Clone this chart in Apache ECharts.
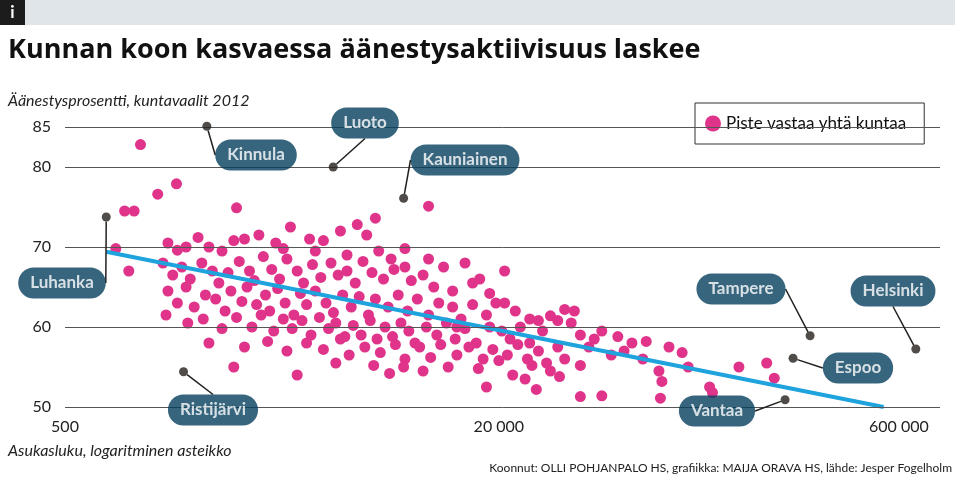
<!DOCTYPE html>
<html><head><meta charset="utf-8">
<script src="https://cdn.jsdelivr.net/npm/echarts@6/dist/echarts.min.js"></script>
<style>body{margin:0}#c{width:960px;height:481px}</style></head>
<body><div id="c"></div>
<script>
const title = "Kunnan koon kasvaessa äänestysaktiivisuus laskee";
const yTicks = [50, 60, 70, 80, 85];
const xTicks = [500, 20000, 600000];
// municipalities: [population, turnout %]
const municipalities = [
[950,82.8],[1290,77.9],[1100,76.6],[830,74.5],[900,74.5],[2150,74.9],[11000,75.1],[7000,73.6],[770,69.8],[860,67],
[1200,70.5],[1300,69.6],[1400,70],[1550,71.2],[1700,70],[1900,69.5],[2100,70.8],[2300,71],[2600,71.5],[3000,70.5],[3400,72.5],[4000,71],[4500,70.8],[5200,72],[6000,72.8],[6500,71.5],[7200,69.5],[8000,68.5],[9000,67.5],[12500,67.5],[15000,68],[17000,66],[21000,67],
[1150,68],[1250,66.5],[1350,67.5],[1450,66],[1600,68],[1750,67],[1850,65.5],[2000,66.8],[2200,68.2],[2400,67],[2500,65.8],[2700,68.8],[2900,67.2],[3100,66],[3300,68.5],[3600,67],[3800,65.5],[4100,67.8],[4400,66.2],[4800,68],[5100,66.5],[5500,67],[5900,65.5],[6300,68.2],[6800,66.8],[7500,66],[8200,67.2],[9500,65.8],[10500,66.5],[11500,65],
[1200,64.5],[1300,63],[1400,65],[1500,62.5],[1650,64],[1800,63.5],[1950,62],[2050,64.5],[2250,63.2],[2350,65],[2550,62.8],[2750,64],[2850,62],[3050,64.8],[3250,63],[3500,61.5],[3700,64.2],[3900,62.8],[4200,64.5],[4600,63],[4900,61.8],[5300,64],[5700,62.5],[6100,63.8],[6600,61.5],[7000,63.5],[7800,62.5],[8500,64],[9200,62],[10000,63.5],[11000,61.5],[12000,63],[13500,62.5],[14500,61],[16000,62.8],[18000,61.5],[19500,63],
[1180,61.5],[1420,60.5],[1620,61],[1900,59.8],[2150,61.2],[2450,60],[2650,61.5],[2950,59.5],[3200,61],[3450,59.8],[3750,60.8],[4050,59],[4350,61.2],[4700,59.8],[5000,60.5],[5400,58.8],[5800,60.2],[6200,59],[6700,60.8],[7100,58.5],[7600,60],[8100,58.8],[8700,60.5],[9300,59.5],[9800,58],[10800,60],[11800,59],[12800,60.5],[13800,58.5],[15000,59.8],[16500,58],[18500,60],[20500,59.5],[22000,58.5],[24000,60],[26000,58],[29000,59.5],
[1700,58],[2300,57.5],[2800,58.2],[3300,57],[3900,58],[4500,57.2],[5200,58.5],[5600,56.5],[6400,57.5],[7300,56.8],[8300,57.8],[9000,56],[10200,57.5],[11200,56.2],[12200,57.8],[14000,56.5],[15500,57.5],[17500,56],[19000,57.2],[21500,56.5],[23500,57.8],[25500,56],[28000,57],[30000,55.5],[33000,57.5],
[2100,55],[3600,54],[5000,55.5],[6900,55.2],[7900,54.2],[8900,55],[10500,54.5],[13000,55],[16800,54.8],[20000,55.8],[22500,54],[26500,55.2],[31000,54.5],[35000,56],[40000,55.2],
[18000,52.5],[25000,53.5],[27500,52.2],[33500,53.8],[31000,61.4],[33000,60.8],[37000,60.5],[40000,59],[45000,58.5],[48000,59.5],[43000,57.5],[55000,58.8],[62000,58],[58000,57],[52000,56.5],[70000,58.2],[68000,56],[85000,57.5],[95000,56.8],[78000,54.5],[80000,53.2],[100000,55],[120000,52.5],[123000,51.8],[79000,51.1],[48000,51.4],[40000,51.3],[154000,55],[208000,53.6],[195000,55.5],
[11000,68.5],[9000,69.8],[13500,64.5],[14000,60],[5500,69],[4200,69.5],[3200,69.8],[23000,62],[26000,61],[28000,60.8],[35000,62.2],[21000,63],[18500,64.2],[38000,62],[16000,65.5]
];
const named = [
["Kinnula",1670,85.1],["Luoto",4890,80],["Kauniainen",8900,76.1],["Luhanka",710,73.75],["Ristijärvi",1370,54.4],
["Tampere",282000,58.9],["Espoo",244000,56.1],["Helsinki",693000,57.25],["Vantaa",228000,50.9]
];
const trend = [[710,69.4],[527000,50.0]];
const calloutPos = {Kinnula:[256,155],Luoto:[365,123],Kauniainen:[465,160],Luhanka:[62,283],"Ristijärvi":[213,410],Tampere:[741,289],Espoo:[858,368],Helsinki:[893,291],Vantaa:[717,411]};

const L = v => Math.log10(v);
const chart = echarts.init(document.getElementById('c'));
chart.setOption({
  animation:false,
  textStyle:{fontFamily:'Lato'},
  graphic:[
    {type:'rect',shape:{x:0,y:0,width:955,height:25},style:{fill:'#dfe5e8'}},
    {type:'rect',shape:{x:0,y:0,width:25,height:25},style:{fill:'#1c1c1c'}},
    {type:'text',x:12.5,y:13,style:{text:'i',fill:'#fff',font:'bold 17px Lato',align:'center',verticalAlign:'middle'}},
    {type:'text',x:8,y:50,style:{text:title,fill:'#111',font:'bold 27px "Open Sans"',verticalAlign:'middle'}},
    {type:'text',x:8,y:101,style:{text:'Äänestysprosentti, kuntavaalit 2012',fill:'#222',font:'italic 16px Lato',verticalAlign:'middle'}},
    {type:'text',x:8,y:451,style:{text:'Asukasluku, logaritminen asteikko',fill:'#222',font:'italic 16px Lato',verticalAlign:'middle'}},
    {type:'text',x:952,y:468,style:{text:'Koonnut: OLLI POHJANPALO HS, grafiikka: MAIJA ORAVA HS, lähde: Jesper Fogelholm',fill:'#222',font:'12px Lato',align:'right',verticalAlign:'middle'}}
  ],
  legend:{show:true,data:['Piste vastaa yhtä kuntaa'],left:695,top:103,padding:[12,18,12,10],borderColor:'#333',borderWidth:1,
    itemWidth:16,itemHeight:16,textStyle:{fontSize:17,color:'#111',fontFamily:'Lato'}},
  grid:{left:65,right:20,top:127,bottom:74},
  xAxis:{type:'value',min:L(500),max:5.93,axisLine:{show:false},axisTick:{show:false},splitLine:{show:false},
    axisLabel:{customValues:xTicks.map(L),formatter:v=>Math.round(Math.pow(10,v)).toLocaleString('fi-FI').replace(/\s/g,' '),fontSize:16,color:'#222',margin:12}},
  yAxis:{type:'value',min:50,max:85,axisLine:{show:false},axisTick:{show:false},splitLine:{show:false},
    axisLabel:{customValues:yTicks,fontSize:16,color:'#222',margin:14}},
  series:[
    {type:'line',data:[],silent:true,markLine:{symbol:'none',silent:true,label:{show:false},lineStyle:{color:'#555',width:1,type:'solid'},
      data:yTicks.map(v=>({yAxis:v}))}},
    {name:'Piste vastaa yhtä kuntaa',type:'scatter',symbolSize:11,itemStyle:{color:'#e0338a',opacity:1},
      data:municipalities.map(d=>[L(d[0]),d[1]])},
    {type:'line',data:trend.map(d=>[L(d[0]),d[1]]),symbol:'none',lineStyle:{color:'#1fa3dc',width:4},z:3},
    {type:'scatter',symbolSize:9,clip:false,itemStyle:{color:'#231f1c'},z:5,
      data:named.map(d=>({name:d[0],value:[L(d[1]),d[2]]})),
      label:{show:true,formatter:p=>p.name,color:'#fff',fontWeight:'bold',fontSize:17,backgroundColor:'#053f5c',borderRadius:16,padding:[7,12]},
      labelLine:{show:true,lineStyle:{color:'#231f1c',width:1.5}},
      labelLayout:p=>{const c=calloutPos[named[p.dataIndex][0]];return {x:c[0],y:c[1],align:'center',verticalAlign:'middle'};}}
  ]
});
</script></body></html>
